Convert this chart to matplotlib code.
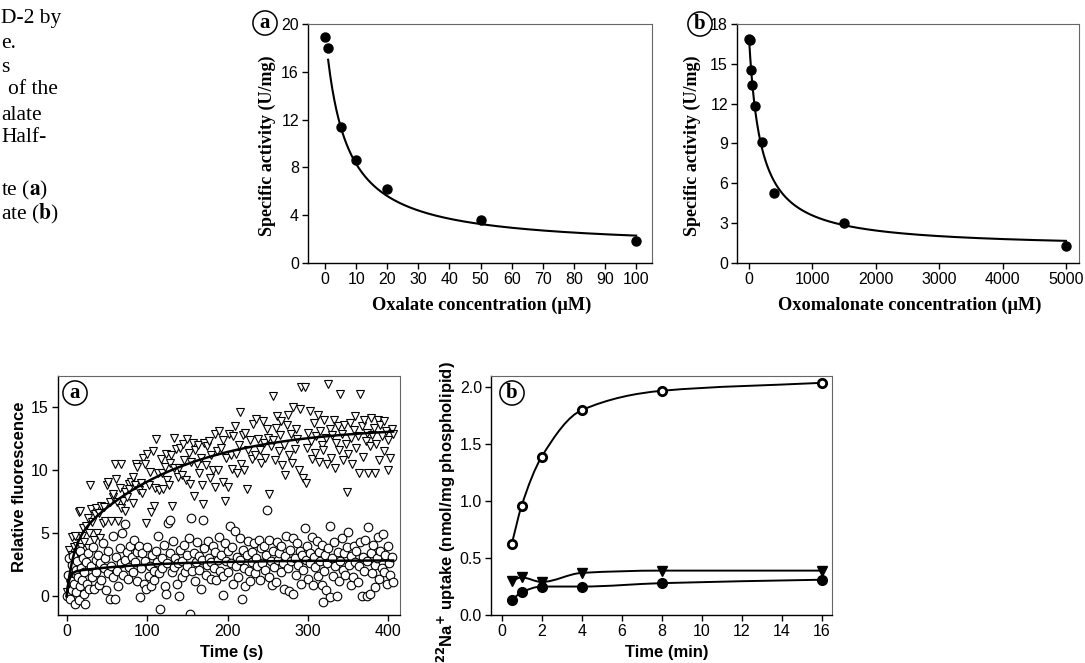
import numpy as np
import matplotlib
matplotlib.use("Agg")
import matplotlib.pyplot as plt
from matplotlib.path import Path
from matplotlib.patches import PathPatch

W, H = 1085, 663

# ---------------- data ----------------
oxalate_conc = [0, 1, 5, 10, 20, 50, 100]
oxalate_act = [18.9, 18.0, 11.4, 8.6, 6.2, 3.6, 1.8]
oxalate_fit = dict(bottom=1.2, span=18.3, ic50=6.34)

oxomal_conc = [0, 10, 25, 50, 100, 200, 400, 1500, 5000]
oxomal_act = [16.9, 16.8, 14.5, 13.4, 11.8, 9.1, 5.3, 3.0, 1.3]
oxomal_fit = dict(bottom=1.1, span=15.9, ic50=185.0)

tri_t = [1,2,3,4,5,6,7,8,9,10,11,12,13,14,15,16,17,18,19,20,22,24,26,27,28,29,30,32,34,35,36,38,40,42,43,45,46,48,50,52,54,55,57,58,60,61,63,64,66,67,68,70,72,73,75,77,78,80,82,83,85,86,88,90,92,94,95,97,99,100,102,104,105,107,108,110,111,113,115,117,118,120,122,124,125,127,128,130,131,133,134,136,138,140,141,143,145,146,148,150,152,153,155,157,158,160,162,163,165,167,168,170,171,173,175,177,178,180,182,184,185,187,188,190,192,194,195,197,198,200,202,204,205,207,209,210,212,214,215,217,219,220,222,224,226,228,230,232,234,236,238,240,242,244,245,247,249,250,252,254,256,257,259,260,262,264,265,267,268,270,272,274,275,277,279,280,282,284,285,287,289,290,292,294,296,297,299,300,302,304,305,307,309,310,312,314,315,317,319,320,322,324,325,327,329,330,332,334,335,337,339,340,342,344,345,347,348,350,352,354,355,357,359,360,362,364,365,367,369,370,372,374,375,377,379,380,382,383,385,387,389,390,392,394,395,397,399,400,402,404,406]
tri_f = [0.3,1.5,3.7,1.0,2.5,3.3,4.7,2.2,3.9,4.8,3.0,2.8,4.0,3.5,6.7,4.2,6.8,3.9,4.8,5.4,4.3,5.6,6.2,3.8,5.0,8.8,6.9,5.9,4.5,6.5,7.0,5.0,6.6,4.6,7.2,5.8,7.1,6.0,8.8,9.1,7.5,6.0,7.9,8.1,10.5,9.3,7.5,6.0,8.6,10.5,7.0,7.6,8.3,6.8,7.9,8.9,8.5,9.1,9.5,7.4,8.8,10.5,10.3,8.4,9.0,8.2,11.0,10.5,5.8,11.3,8.8,9.9,6.7,11.5,7.2,8.6,12.5,9.8,8.4,10.9,9.8,8.5,10.3,11.3,9.2,8.8,10.6,11.2,7.2,12.6,10.2,11.7,9.5,10.2,11.8,9.6,12.1,10.8,9.2,12.5,11.4,8.9,10.7,12.2,8.0,11.6,10.5,12.0,9.8,11.0,8.8,7.3,12.2,10.4,11.9,12.3,9.4,11.2,10.0,8.7,12.9,11.5,10.0,13.1,11.8,9.1,12.4,7.6,11.0,8.7,12.9,11.2,10.1,12.7,13.5,11.3,9.8,12.0,14.6,10.5,12.8,10.0,13.0,8.5,11.6,12.4,10.9,13.7,11.2,14.1,12.5,11.6,10.6,13.9,12.2,11.0,13.3,12.6,8.1,11.9,12.4,15.9,10.8,13.4,14.3,11.5,12.8,13.9,10.4,12.0,9.6,13.6,14.4,11.2,12.9,10.6,15.0,11.7,13.3,12.5,10.0,14.9,16.6,9.4,16.6,9.0,11.8,13.0,14.7,12.3,10.9,13.8,11.4,12.7,14.4,10.7,13.1,12.0,11.6,14.0,12.6,10.5,16.9,13.3,11.0,12.8,14.0,10.2,12.2,13.5,11.6,16.1,12.9,10.8,13.6,12.1,8.25,11.3,13.8,12.6,10.5,13.2,14.3,11.8,12.7,9.8,16.1,13.5,11.1,14.0,12.3,13.0,9.8,11.9,14.2,12.8,13.4,9.8,12.1,14.0,10.8,13.6,12.7,13.9,11.5,13.1,12.4,10.0,11.0,13.3,12.9]

circ_t = [1,2,3,4,5,6,7,8,9,10,11,12,13,14,15,16,17,18,19,20,21,22,23,24,25,27,28,30,31,33,34,36,37,39,40,42,43,45,46,48,49,51,52,54,55,57,58,60,61,63,64,66,67,69,70,72,73,75,76,78,79,81,82,84,85,87,88,90,91,93,94,96,97,99,100,102,103,105,106,108,109,111,112,114,115,116,118,119,121,122,123,125,126,128,129,131,132,134,135,137,138,140,141,143,144,146,147,149,150,152,153,155,156,158,159,161,162,164,165,167,168,170,171,173,174,176,177,179,180,182,183,185,186,188,189,191,192,194,195,197,198,200,201,203,204,206,207,209,210,212,213,215,216,218,219,221,222,224,225,227,228,230,231,233,234,236,237,239,240,242,243,245,246,248,249,251,252,254,255,257,258,260,261,263,264,266,267,269,270,272,273,275,276,278,279,281,282,284,285,287,288,290,291,293,294,296,297,299,300,302,303,305,306,308,309,311,312,314,315,317,318,320,321,323,324,325,327,328,319,330,331,333,334,336,337,339,340,342,343,345,346,348,350,351,353,354,356,357,359,360,362,363,365,367,368,370,371,373,374,375,377,378,380,381,383,384,386,387,389,390,392,393,395,396,398,399,401,402,404,406]
circ_f = [0.0,1.7,3.0,-0.2,1.2,2.5,0.5,3.2,1.0,-0.66,2.1,0.3,2.8,1.5,-0.3,3.6,0.8,2.2,1.3,3.0,0.2,1.9,-0.66,2.7,1.0,3.4,0.6,2.4,1.5,3.9,0.6,2.9,1.9,3.3,0.9,2.6,1.3,4.2,2.2,3.0,0.5,1.8,3.6,-0.2,2.4,4.8,1.5,-0.2,3.1,2.0,0.8,3.8,2.6,5.0,1.7,2.9,5.7,3.5,1.4,2.3,4.0,3.1,1.9,4.5,2.7,3.5,1.2,4.0,-0.05,2.2,3.4,1.0,2.8,0.6,3.9,1.6,2.4,0.8,3.3,2.0,1.3,3.6,2.7,4.8,1.8,-1.06,3.0,2.2,4.1,0.8,0.2,2.6,5.85,6.05,3.4,1.9,4.4,2.3,3.0,1.0,2.6,0.0,3.7,1.5,2.8,4.1,1.9,2.4,3.3,4.6,-1.43,6.2,2.0,3.4,1.2,2.7,4.3,2.1,3.2,0.6,2.9,6.05,3.8,1.7,2.5,4.4,3.0,1.4,2.7,4.0,2.2,3.5,1.3,2.9,4.7,2.0,3.3,1.6,0.1,4.2,2.8,3.6,1.9,5.6,2.6,3.9,1.0,5.2,2.4,3.1,1.5,4.6,2.9,-0.2,3.7,2.2,0.8,3.3,4.4,2.0,1.2,3.5,2.7,4.2,1.8,3.0,2.4,4.5,1.3,3.8,2.6,4.0,2.1,3.3,6.85,1.5,4.5,2.8,0.9,3.6,2.3,1.1,4.3,2.9,3.4,1.9,4.0,2.6,0.6,3.2,4.8,2.2,0.4,3.7,2.8,4.6,0.2,3.0,1.7,4.2,2.5,3.6,1.0,3.3,2.1,5.4,2.9,4.0,1.4,3.4,2.6,4.7,0.9,3.1,2.3,4.4,1.6,3.5,2.8,0.9,4.1,2.0,3.3,0.5,2.6,3.8,5.6,-0.05,-0.48,3.0,1.6,4.3,2.4,0.0,3.5,1.2,2.8,4.6,2.1,3.4,1.7,3.9,5.1,2.5,0.9,3.2,1.5,4.0,2.7,3.6,1.1,2.4,4.3,0.0,3.1,2.0,4.5,0.0,2.8,5.47,0.2,3.4,1.8,4.1,2.5,0.7,3.0,4.7,1.4,3.6,2.2,4.9,1.9,3.3,1.0,4.0,2.6,1.7,3.1,1.1]

tri_fit = dict(a1=4.0, tau1=8.0, a2=9.5, tau2=130.0)
circ_fit = dict(a1=1.9, tau1=3.0, a2=0.95, tau2=100.0)

uptake_t = [0.5, 1, 2, 4, 8, 16]
uptake_open = [0.62, 0.96, 1.39, 1.80, 1.97, 2.04]
uptake_tri = [0.30, 0.33, 0.29, 0.37, 0.39, 0.39]
uptake_filled = [0.13, 0.20, 0.25, 0.25, 0.28, 0.31]

body_lines = [("D-2 by", 1, 18), ("e.", 1, 43), ("s", 1, 67), ("of the", 8, 90),
              ("alate", 1, 115), ("Half-", 1, 137), ("te ($\\mathbf{a}$)", 1, 190),
              ("ate ($\\mathbf{b}$)", 1, 214)]

# ---------------- style ----------------
SANS = "Liberation Sans"
SERIF = "Liberation Serif"
plt.rcParams["font.family"] = SANS

fig = plt.figure(figsize=(W / 100, H / 100), dpi=100)


def add_ax(l, t, r, b):
    return fig.add_axes([l / W, 1 - b / H, (r - l) / W, (b - t) / H])


def style(ax):
    for s in ("left", "bottom"):
        ax.spines[s].set_color("black")
        ax.spines[s].set_linewidth(1.0)
    for s in ("top", "right"):
        ax.spines[s].set_color("#666666")
        ax.spines[s].set_linewidth(0.8)
    ax.tick_params(direction="out", length=4, width=1, pad=2.5, labelsize=11.5,
                   top=False, right=False)


def circ_label(x, y, letter):
    fig.text(x / W, 1 - y / H, letter, family=SERIF, weight="bold", fontsize=15,
             ha="center", va="center",
             bbox=dict(boxstyle="circle,pad=0.1", fc="white", ec="black", lw=1.1))


def smooth_path(xs, ys):
    xs = np.asarray(xs, float)
    ys = np.asarray(ys, float)
    h = np.diff(xs)
    d = np.diff(ys) / h
    m = np.zeros_like(xs)
    m[0], m[-1] = d[0], d[-1]
    for i in range(1, len(xs) - 1):
        if d[i - 1] * d[i] <= 0:
            m[i] = 0.0
        else:
            w1 = 2 * h[i] + h[i - 1]
            w2 = h[i] + 2 * h[i - 1]
            m[i] = (w1 + w2) / (w1 / d[i - 1] + w2 / d[i])
    verts = [(xs[0], ys[0])]
    codes = [Path.MOVETO]
    for i in range(len(xs) - 1):
        verts += [(xs[i] + h[i] / 3, ys[i] + m[i] * h[i] / 3),
                  (xs[i + 1] - h[i] / 3, ys[i + 1] - m[i + 1] * h[i] / 3),
                  (xs[i + 1], ys[i + 1])]
        codes += [Path.CURVE4] * 3
    return Path(verts, codes)


# ---------------- body text (cropped column) ----------------
for txt, x, y in body_lines:
    fig.text(x / W, 1 - y / H, txt, family=SERIF, fontsize=15.5, ha="left",
             va="center", math_fontfamily="stix")

# ---------------- top a ----------------
ax1 = add_ax(308, 24, 652, 263)
style(ax1)
xx = np.linspace(1, 100, 300)
ax1.plot(xx, oxalate_fit["bottom"] + oxalate_fit["span"] / (1 + xx / oxalate_fit["ic50"]),
         color="black", lw=1.5)
ax1.plot(oxalate_conc, oxalate_act, "o", color="black", ms=6.5)
ax1.set_xlim(-5.47, 105.1)
ax1.set_ylim(0, 20)
ax1.set_xticks(range(0, 101, 10))
ax1.set_yticks(range(0, 21, 4))
fig.text(267 / W, 1 - 146 / H, "Specific activity (U/mg)", family=SERIF, weight="bold",
         fontsize=13, rotation=90, ha="center", va="center")
fig.text(482 / W, 1 - 305 / H, "Oxalate concentration (\u03bcM)", family=SERIF,
         weight="bold", fontsize=13.2, ha="center", va="center")
circ_label(265, 23, "a")

# ---------------- top b ----------------
ax2 = add_ax(737, 24, 1079, 263)
style(ax2)
xx = np.linspace(0, 5000, 2000)
ax2.plot(xx, oxomal_fit["bottom"] + oxomal_fit["span"] / (1 + xx / oxomal_fit["ic50"]),
         color="black", lw=1.5)
ax2.plot(oxomal_conc, oxomal_act, "o", color="black", ms=6.5)
ax2.set_xlim(-189, 5205)
ax2.set_ylim(0, 18)
ax2.set_xticks(range(0, 5001, 1000))
ax2.set_yticks(range(0, 19, 3))
fig.text(692 / W, 1 - 146 / H, "Specific activity (U/mg)", family=SERIF, weight="bold",
         fontsize=13, rotation=90, ha="center", va="center")
fig.text(910 / W, 1 - 305 / H, "Oxomalonate concentration (\u03bcM)", family=SERIF,
         weight="bold", fontsize=13.2, ha="center", va="center")
circ_label(700, 24, "b")

# ---------------- bottom a ----------------
ax3 = add_ax(58, 376, 400, 615)
style(ax3)
ax3.plot(tri_t, tri_f, "v", mfc="white", mec="black", mew=0.8, ms=6.2, ls="none")
ax3.plot(circ_t, circ_f, "o", mfc="white", mec="black", mew=0.8, ms=6.2, ls="none")
tt = np.linspace(0, 406, 600)
ax3.plot(tt, tri_fit["a1"] * (1 - np.exp(-tt / tri_fit["tau1"]))
         + tri_fit["a2"] * (1 - np.exp(-tt / tri_fit["tau2"])), color="black", lw=1.8)
ax3.plot(tt, circ_fit["a1"] * (1 - np.exp(-tt / circ_fit["tau1"]))
         + circ_fit["a2"] * (1 - np.exp(-tt / circ_fit["tau2"])), color="black", lw=1.8)
ax3.set_xlim(-10.8, 414.5)
ax3.set_ylim(-1.5, 17.5)
ax3.set_xticks([0, 100, 200, 300, 400])
ax3.set_yticks([0, 5, 10, 15])
fig.text(20 / W, 1 - 487 / H, "Relative fluorescence", weight="bold", fontsize=12,
         rotation=90, ha="center", va="center")
fig.text(232 / W, 1 - 653 / H, "Time (s)", weight="bold", fontsize=12,
         ha="center", va="center")
circ_label(75, 393, "a")

# ---------------- bottom b ----------------
ax4 = add_ax(491, 376, 832, 615)
style(ax4)
for ys in (uptake_open, uptake_tri, uptake_filled):
    ax4.add_patch(PathPatch(smooth_path(uptake_t, ys), fc="none", ec="black", lw=1.4))
ax4.plot(uptake_t, uptake_tri, "v", color="black", ms=7.5, ls="none")
ax4.plot(uptake_t, uptake_filled, "o", color="black", ms=7, ls="none")
ax4.plot(uptake_t, uptake_open, "o", mfc="white", mec="black", mew=2.0, ms=6, ls="none")
ax4.set_xlim(-0.53, 16.5)
ax4.set_ylim(0, 2.1)
ax4.set_xticks(range(0, 17, 2))
ax4.set_yticks([0, 0.5, 1.0, 1.5, 2.0])
ax4.set_yticklabels(["0.0", "0.5", "1.0", "1.5", "2.0"])
fig.text(446 / W, 1 - 512 / H,
         "$^{\\mathbf{22}}$Na$^{\\mathbf{+}}$ uptake (nmol/mg phospholipid)",
         weight="bold", fontsize=12, rotation=90, ha="center", va="center")
fig.text(667 / W, 1 - 653 / H, "Time (min)", weight="bold", fontsize=12,
         ha="center", va="center")
circ_label(512, 393, "b")

fig.savefig("out.png", dpi=100)
